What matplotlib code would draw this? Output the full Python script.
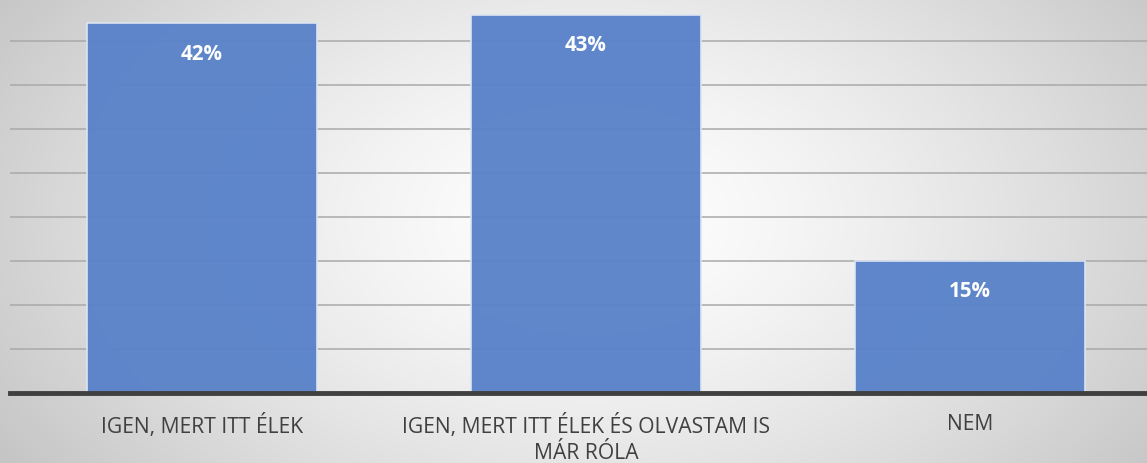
import matplotlib.pyplot as plt
import numpy as np

categories = ["IGEN, MERT ITT ÉLEK", "IGEN, MERT ITT ÉLEK ÉS OLVASTAM IS\nMÁR RÓLA", "NEM"]
values = [42, 43, 15]
labels = ["42%", "43%", "15%"]

W, H = 1147, 464
fig = plt.figure(figsize=(W / 100, H / 100), dpi=100)

# radial gradient background
bg = fig.add_axes([0, 0, 1, 1], zorder=0)
yy, xx = np.mgrid[0:H, 0:W]
r = np.sqrt(((xx - 590) / 640.0) ** 2 + ((yy - 220) / 400.0) ** 2)
shade = 1.0 - 0.20 * np.clip(r, 0, 1.2) ** 1.4
shade = np.clip(shade, 0.77, 1.0)
bg.imshow(np.dstack([shade, shade, shade]), aspect="auto", extent=[0, 1, 0, 1])
bg.axis("off")

ax = fig.add_axes([10 / W, 70 / H, 1152 / W, 396 / H], zorder=1)
ax.patch.set_alpha(0)
x = np.arange(len(categories))
bars = ax.bar(x, values, width=0.6, color="#5a83c9", alpha=0.97,
              edgecolor="#dfe6f3", linewidth=1.2, zorder=3)
ax.set_xlim(-0.5, 2.5)
ax.set_ylim(0, 45)
ax.set_yticks(np.arange(5, 46, 5))
ax.yaxis.grid(True, color="#a9a9a9", linewidth=1.1, zorder=0)
ax.tick_params(axis="y", left=False, labelleft=False)
ax.tick_params(axis="x", bottom=False, pad=11)
ax.set_xticks(x)
ax.set_xticklabels(categories, fontsize=15.2, color="#404040", family="Open Sans",
                   linespacing=1.3, va="top")
for s in ["top", "right", "left"]:
    ax.spines[s].set_visible(False)
ax.spines["bottom"].set_color("#404040")
ax.spines["bottom"].set_linewidth(3.5)
ax.spines["bottom"].set_zorder(4)

for b, lab in zip(bars, labels):
    ax.annotate(lab, (b.get_x() + b.get_width() / 2, b.get_height()),
                xytext=(0, -14), textcoords="offset points", ha="center", va="top",
                color="white", fontsize=14.8, fontweight="bold", family="Open Sans", zorder=5)

fig.savefig("out.png", dpi=100)
